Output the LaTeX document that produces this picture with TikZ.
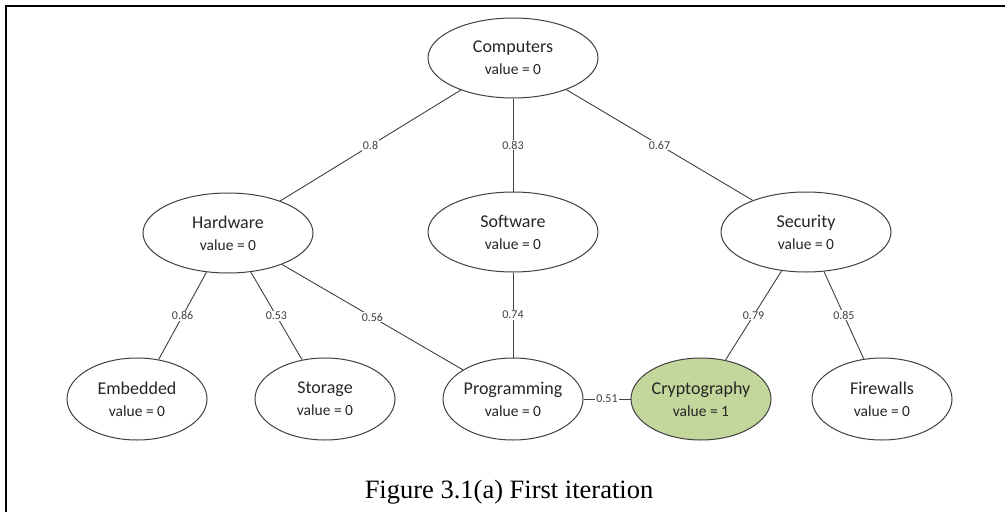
\documentclass[tikz,border=0pt]{standalone}
\usepackage{fontspec}
\setmainfont{Carlito}
\newfontfamily\capfont{Liberation Serif}
\usetikzlibrary{shapes.geometric}
\definecolor{lineg}{HTML}{404040}
\definecolor{txtg}{HTML}{262626}
\definecolor{cryptofill}{HTML}{C3D69B}
\newcommand\valtext[1]{{\fontsize{15.5}{22}\selectfont #1}}
\begin{document}
\begin{tikzpicture}[x=1pt,y=-1pt,
  concept/.style={ellipse, draw=lineg, line width=1pt, inner sep=0pt, align=center, text=txtg, font=\fontsize{18}{22}\selectfont},
  bigc/.style={concept, minimum width=170pt, minimum height=80pt},
  smallc/.style={concept, minimum width=140pt, minimum height=82pt},
  link/.style={draw=lineg, line width=0.9pt},
  wt/.style={fill=white, inner sep=1pt, text=lineg, font=\fontsize{12}{12}\selectfont}]
\useasboundingbox (0,0) rectangle (1005,512);
\fill[white] (0,0) rectangle (1005,512);
\draw[line width=2pt] (5.5,512) -- (5.5,6) -- (1005,6);

\node[bigc] (comp) at (513,58) {Computers\\\valtext{value = 0}};
\node[bigc] (hw) at (228,233) {Hardware\\\valtext{value = 0}};
\node[bigc] (sw) at (513,232) {Software\\\valtext{value = 0}};
\node[bigc] (sec) at (806,232) {Security\\\valtext{value = 0}};
\node[smallc] (emb) at (137,399) {Embedded\\\valtext{value = 0}};
\node[smallc] (sto) at (325,399) {Storage\\\valtext{value = 0}};
\node[smallc] (prog) at (513,399) {Programming\\\valtext{value = 0}};
\node[smallc, fill=cryptofill] (cry) at (701,399) {Cryptography\\\valtext{value = 1}};
\node[smallc] (fire) at (882,399) {Firewalls\\\valtext{value = 0}};

\draw[link] (comp) -- node[wt]{0.8} (hw);
\draw[link] (comp) -- node[wt]{0.83} (sw);
\draw[link] (comp) -- node[wt]{0.67} (sec);
\draw[link] (hw) -- node[wt]{0.86} (emb);
\draw[link] (hw) -- node[wt]{0.53} (sto);
\draw[link] (hw) -- node[wt]{0.56} (prog);
\draw[link] (sw) -- node[wt]{0.74} (prog);
\draw[link] (sec) -- node[wt]{0.79} (cry);
\draw[link] (sec) -- node[wt]{0.85} (fire);
\draw[link] (prog) -- node[wt]{0.51} (cry);

\node[font=\capfont\fontsize{26.5}{30}\selectfont, anchor=base] (cap) at (509,498) {Figure 3.1(a) First iteration};
\end{tikzpicture}
\end{document}
